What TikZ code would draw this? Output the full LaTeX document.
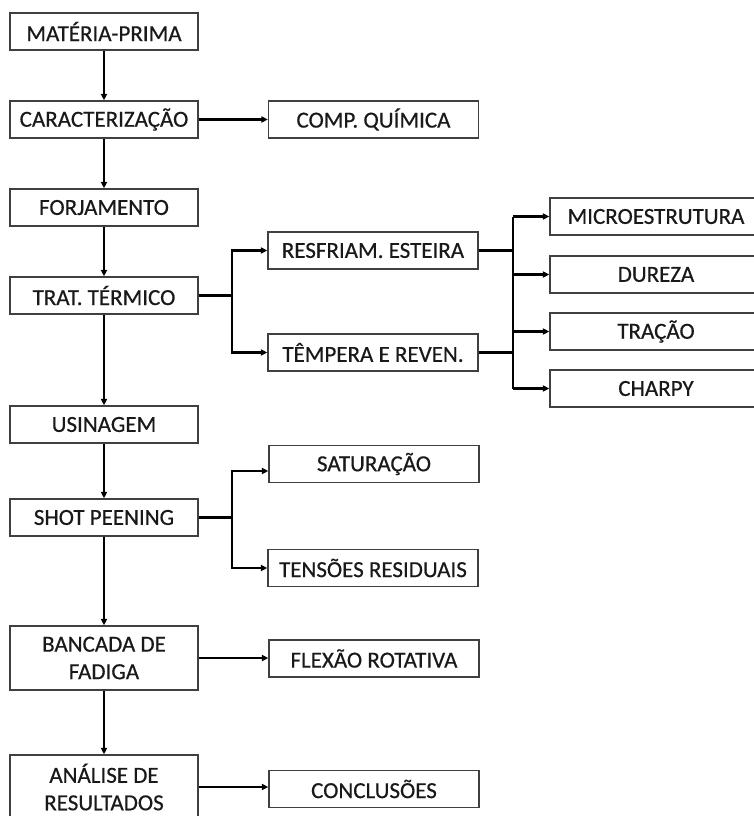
\documentclass[tikz,border=0pt]{standalone}
\usepackage{fontspec}
\setmainfont{Carlito}
\newfontfamily\boxfont{Carlito}[FakeBold=0.5]
\usetikzlibrary{arrows.meta}
\begin{document}
\begin{tikzpicture}[x=1pt,y=-1pt,
  box/.style={draw=black!75, line width=1.3pt, fill=white, text=black!90,
    inner sep=0pt, align=center,
    font=\boxfont\fontsize{23}{27.5}\selectfont},
  lbox/.style={box, minimum width=188pt, minimum height=37pt},
  rbox/.style={box, minimum width=210pt, minimum height=37pt},
  fbox/.style={box, minimum width=212pt, minimum height=37pt},
  tall/.style={minimum height=64pt},
  link/.style={draw=black, line width=2.4pt, -{Triangle[length=6.5pt,width=6pt]}},
  trunk/.style={draw=black, line width=2.4pt}]
\useasboundingbox (0,0) rectangle (753,816);

% main sequence
\node[lbox] (mp)   at (104,31.5)  {MATÉRIA-PRIMA};
\node[lbox] (car)  at (104,119.5) {CARACTERIZAÇÃO};
\node[lbox] (forj) at (104,207.5) {FORJAMENTO};
\node[lbox] (trat) at (104,295.5) {TRAT. TÉRMICO};
\node[lbox] (usin) at (104,424.5) {USINAGEM};
\node[lbox] (shot) at (104,517.5) {SHOT PEENING};
\node[lbox,tall] (banc) at (104,658) {BANCADA DE\\FADIGA};
\node[lbox,tall] (anal) at (104,787) {ANÁLISE DE\\RESULTADOS};

% side results
\node[rbox] (comp) at (373.5,119.5) {COMP. QUÍMICA};
\node[rbox] (resf) at (373,250.5)   {RESFRIAM. ESTEIRA};
\node[rbox] (temp) at (373,352.5)   {TÊMPERA E REVEN.};
\node[rbox] (sat)  at (374,464)     {SATURAÇÃO};
\node[rbox] (tens) at (373,568)     {TENSÕES RESIDUAIS};
\node[rbox] (flex) at (374,658.5)   {FLEXÃO ROTATIVA};
\node[rbox] (conc) at (374,789)     {CONCLUSÕES};

% tests after heat treatment
\node[fbox] (micro) at (656,216.5) {MICROESTRUTURA};
\node[fbox] (dur)   at (656,274.5) {DUREZA};
\node[fbox] (trac)  at (656,331.5) {TRAÇÃO};
\node[fbox] (charp) at (656,388.5) {CHARPY};

% vertical flow
\draw[link] (mp) -- (car);
\draw[link] (car) -- (forj);
\draw[link] (forj) -- (trat);
\draw[link] (trat) -- (usin);
\draw[link] (usin) -- (shot);
\draw[link] (shot) -- (banc);
\draw[link] (banc) -- (anal);

% direct branches
\draw[link] (car.east) -- (comp.west |- car.east);
\draw[link] (banc.east) -- (flex.west |- banc.east);
\draw[link] (anal.east) -- (conc.west |- anal.east);

% heat treatment fork
\coordinate (tj) at (232,295.5);
\draw[trunk] (trat.east) -- (tj);
\draw[link] (tj) |- (resf.west);
\draw[link] (tj) |- (temp.west);

% mechanical test fork
\coordinate (mj) at (513,300);
\draw[trunk] (resf.east) -- (mj |- resf.east);
\draw[trunk] (temp.east) -- (mj |- temp.east);
\draw[trunk] (mj |- micro.west) -- (mj |- charp.west);
\draw[link] (mj |- micro.west) -- (micro.west);
\draw[link] (mj |- dur.west) -- (dur.west);
\draw[link] (mj |- trac.west) -- (trac.west);
\draw[link] (mj |- charp.west) -- (charp.west);

% shot peening fork
\coordinate (sj) at (232,517.5);
\coordinate (satin) at (sat.west |- 0,471);
\draw[trunk] (shot.east) -- (sj);
\draw[link] (sj) |- (satin);
\draw[link] (sj) |- (tens.west);
\end{tikzpicture}
\end{document}
